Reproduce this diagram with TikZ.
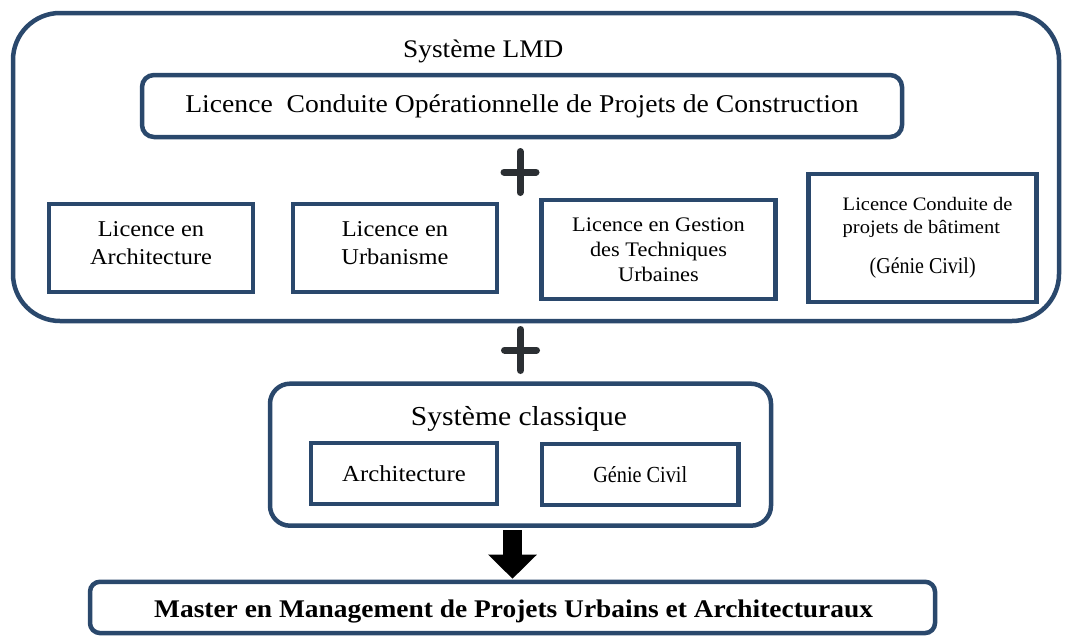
\documentclass[tikz,border=0pt]{standalone}
\usepackage{fontspec}
\setmainfont{Liberation Serif}[FakeStretch=1.08]
\newfontfamily\condfont{Liberation Serif}[FakeStretch=0.88]
\usetikzlibrary{calc}
\definecolor{navy}{RGB}{42,72,108}
\definecolor{plusgray}{RGB}{43,47,51}
\newcommand\fsz[2]{\fontsize{#1pt}{#2pt}\selectfont}
\begin{document}
\begin{tikzpicture}[x=1pt,y=-1pt,
  frame/.style={draw=navy, line width=4.5pt, rounded corners=#1, inner sep=0pt, align=center},
  frame/.default=10pt,
  sqbox/.style={draw=navy, line width=4.8pt, inner sep=0pt, align=center},
  lbl/.style={inner sep=0pt, align=center},
  plusbar/.style={draw=plusgray, line width=7pt, line cap=round}]
\useasboundingbox (0,0) rectangle (1067,635);

% LMD container
\node[frame=47pt, minimum width=1046pt, minimum height=308pt] (lmd) at (536,167) {};
\node[lbl, anchor=base west, font=\fsz{25.3}{30}] (lmdt) at (403,57) {Système LMD};
\node[frame=12pt, minimum width=760pt, minimum height=62pt, font=\fsz{25.6}{30}] (lcop) at (522,106)
  {Licence\ \ Conduite Opérationnelle de Projets de Construction};

% plus 1
\coordinate (p1) at (520,172);
\draw[plusbar] ($(p1)+(-16,0)$) -- ($(p1)+(16,0)$) ($(p1)+(0,-20.5)$) -- ($(p1)+(0,20.5)$);

% four licences
\node[sqbox, minimum width=204pt, minimum height=88pt] (la) at (151,248) {};
\node[lbl, font=\fsz{22.6}{28}] (lat) at (151,243.5) {Licence en\\Architecture};
\node[sqbox, minimum width=204pt, minimum height=88pt] (lu) at (395,248) {};
\node[lbl, font=\fsz{22.6}{28}] (lut) at (395,243) {Licence en\\Urbanisme};
\node[sqbox, minimum width=234pt, minimum height=99pt, font=\fsz{20.7}{25}] (lg) at (658.5,249.5)
  {Licence en Gestion\\des Techniques\\Urbaines};
\node[sqbox, align=left, minimum width=228pt, minimum height=128pt, font=\fsz{19}{23.3}] (lc) at (922.6,238)
  {\hspace*{10pt}Licence Conduite de\\\hspace*{10pt}projets de bâtiment\\[16.7pt]\hspace*{37pt}{\condfont\fsz{22.7}{23.3}(Génie Civil)}};

% plus 2
\coordinate (p2) at (520.5,350);
\draw[plusbar] ($(p2)+(-16,0)$) -- ($(p2)+(16,0)$) ($(p2)+(0,-20.5)$) -- ($(p2)+(0,20.5)$);

% classic system
\node[frame=20pt, minimum width=501pt, minimum height=142pt] (cls) at (520.5,454.7) {};
\node[lbl, anchor=base, font=\fsz{27.4}{32}] (clst) at (519,425) {Système classique};
\node[sqbox, minimum width=186pt, minimum height=61pt, font=\fsz{22.9}{27}] (ca) at (404,473.5) {Architecture};
\node[sqbox, minimum width=196.6pt, minimum height=61pt, font=\condfont\fsz{23}{27}] (cg) at (640.3,474.5) {Génie Civil};

% master
\node[frame=10pt, minimum width=845pt, minimum height=51.3pt] (ms) at (512.5,607.4) {};
\node[lbl, anchor=base, font=\bfseries\fsz{25.4}{30}] (mst) at (513.6,617.5)
  {Master en Management de Projets Urbains et Architecturaux};

% arrow
\coordinate (a0) at (cls.south -| ms.north);
\fill[black] ($(a0)+(-9.35,2.25)$) -- ($(a0)+(-9.35,26.7)$) -- ($(a0)+(-24.35,26.7)$) -- ($(a0)+(0,50.7)$)
  -- ($(a0)+(24.35,26.7)$) -- ($(a0)+(9.35,26.7)$) -- ($(a0)+(9.35,2.25)$) -- cycle;
\end{tikzpicture}
\end{document}
